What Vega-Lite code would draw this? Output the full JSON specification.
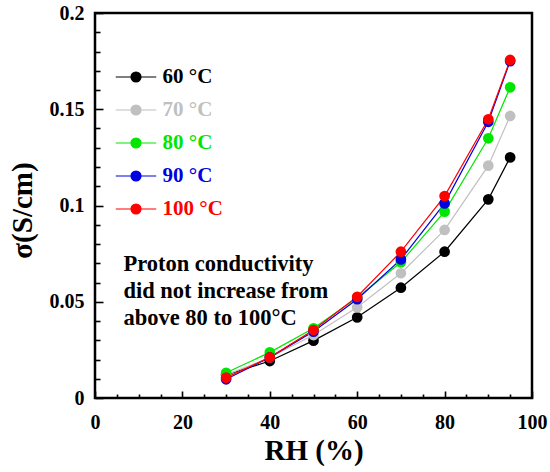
{
  "$schema": "https://vega.github.io/schema/vega-lite/v6.json",
  "autosize": {"type": "none"},
  "padding": {"left": 95, "top": 13, "right": 18, "bottom": 74},
  "width": 437,
  "height": 385,
  "config": {
    "view": {"stroke": "black", "strokeWidth": 2.5},
    "font": "Liberation Serif",
    "axis": {
      "labelFont": "Liberation Serif", "labelFontSize": 20, "labelFontWeight": "bold", "labelColor": "black",
      "titleFont": "Liberation Serif", "titleFontWeight": "bold", "titleColor": "black",
      "grid": false, "domain": false, "tickColor": "black", "tickWidth": 1.6
    }
  },
  "datasets": {
    "cond": [
      {"rh": 30, "sigma": 0.0120, "T": "60 °C"},
      {"rh": 40, "sigma": 0.0192, "T": "60 °C"},
      {"rh": 50, "sigma": 0.0298, "T": "60 °C"},
      {"rh": 60, "sigma": 0.0419, "T": "60 °C"},
      {"rh": 70, "sigma": 0.0573, "T": "60 °C"},
      {"rh": 80, "sigma": 0.0760, "T": "60 °C"},
      {"rh": 90, "sigma": 0.1032, "T": "60 °C"},
      {"rh": 95, "sigma": 0.1250, "T": "60 °C"},
      {"rh": 30, "sigma": 0.0120, "T": "70 °C"},
      {"rh": 40, "sigma": 0.0210, "T": "70 °C"},
      {"rh": 50, "sigma": 0.0327, "T": "70 °C"},
      {"rh": 60, "sigma": 0.0471, "T": "70 °C"},
      {"rh": 70, "sigma": 0.0648, "T": "70 °C"},
      {"rh": 80, "sigma": 0.0873, "T": "70 °C"},
      {"rh": 90, "sigma": 0.1207, "T": "70 °C"},
      {"rh": 95, "sigma": 0.1465, "T": "70 °C"},
      {"rh": 30, "sigma": 0.0131, "T": "80 °C"},
      {"rh": 40, "sigma": 0.0237, "T": "80 °C"},
      {"rh": 50, "sigma": 0.0362, "T": "80 °C"},
      {"rh": 60, "sigma": 0.0521, "T": "80 °C"},
      {"rh": 70, "sigma": 0.0705, "T": "80 °C"},
      {"rh": 80, "sigma": 0.0968, "T": "80 °C"},
      {"rh": 90, "sigma": 0.1349, "T": "80 °C"},
      {"rh": 95, "sigma": 0.1614, "T": "80 °C"},
      {"rh": 30, "sigma": 0.0097, "T": "90 °C"},
      {"rh": 40, "sigma": 0.0211, "T": "90 °C"},
      {"rh": 50, "sigma": 0.0345, "T": "90 °C"},
      {"rh": 60, "sigma": 0.0513, "T": "90 °C"},
      {"rh": 70, "sigma": 0.0720, "T": "90 °C"},
      {"rh": 80, "sigma": 0.1011, "T": "90 °C"},
      {"rh": 90, "sigma": 0.1435, "T": "90 °C"},
      {"rh": 95, "sigma": 0.1750, "T": "90 °C"},
      {"rh": 30, "sigma": 0.0106, "T": "100 °C"},
      {"rh": 40, "sigma": 0.0211, "T": "100 °C"},
      {"rh": 50, "sigma": 0.0353, "T": "100 °C"},
      {"rh": 60, "sigma": 0.0526, "T": "100 °C"},
      {"rh": 70, "sigma": 0.0760, "T": "100 °C"},
      {"rh": 80, "sigma": 0.1049, "T": "100 °C"},
      {"rh": 90, "sigma": 0.1448, "T": "100 °C"},
      {"rh": 95, "sigma": 0.1756, "T": "100 °C"}
    ],
    "note": [
      {"rh": 6.5, "sigma": 0.0661, "txt": ["Proton conductivity", "did not increase from", "above 80 to 100°C"]}
    ]
  },
  "layer": [
    {
      "data": {"name": "cond"},
      "mark": {"type": "line", "strokeWidth": 1.2, "point": {"filled": true, "size": 115, "opacity": 1}},
      "encoding": {
        "x": {
          "field": "rh", "type": "quantitative", "title": "RH (%)",
          "scale": {"domain": [0, 100], "nice": false},
          "axis": {
            "values": [0, 5, 10, 15, 20, 25, 30, 35, 40, 45, 50, 55, 60, 65, 70, 75, 80, 85, 90, 95, 100],
            "tickCount": 40,
            "labelExpr": "datum.value % 20 == 0 ? datum.label : ''",
            "tickSize": {"condition": {"test": "datum.value % 20 == 0", "value": -7}, "value": -4},
            "labelOverlap": false, "labelFlush": false,
            "labelPadding": 21,
            "titleFontSize": 29, "titleY": 52, "titleBaseline": "middle"
          }
        },
        "y": {
          "field": "sigma", "type": "quantitative", "title": "σ(S/cm)",
          "scale": {"domain": [0, 0.2], "nice": false},
          "axis": {
            "values": [0, 0.01, 0.02, 0.03, 0.04, 0.05, 0.06, 0.07, 0.08, 0.09, 0.1, 0.11, 0.12, 0.13, 0.14, 0.15, 0.16, 0.17, 0.18, 0.19, 0.2],
            "tickCount": 40,
            "format": "~g",
            "labelExpr": "abs(datum.value * 20 - round(datum.value * 20)) < 0.000001 ? datum.label : ''",
            "tickSize": {"condition": {"test": "abs(datum.value * 20 - round(datum.value * 20)) < 0.000001", "value": -8}, "value": -5},
            "labelOverlap": false, "labelFlush": false,
            "labelPadding": 19,
            "titleFontSize": 29, "titleX": -73, "titleY": 197, "titleBaseline": "middle"
          }
        },
        "color": {
          "field": "T", "type": "nominal",
          "scale": {
            "domain": ["60 °C", "70 °C", "80 °C", "90 °C", "100 °C"],
            "range": ["#000000", "#c0c0c0", "#00e600", "#0000e0", "#ff0000"]
          },
          "legend": {
            "title": null, "orient": "none", "legendX": 26.5, "legendY": 49.5, "padding": 0,
            "symbolType": "M-1.5,0H1.5M0.37,0A0.37,0.37,0,1,1,-0.37,0A0.37,0.37,0,1,1,0.37,0",
            "symbolSize": 729, "symbolStrokeWidth": 1.2,
            "labelFont": "Liberation Serif", "labelFontSize": 21, "labelFontWeight": "bold",
            "labelOffset": 12, "rowPadding": 8,
            "encode": {
              "labels": {"update": {"fill": {"scale": "color", "field": "value"}}},
              "symbols": {"update": {"fill": {"scale": "color", "field": "value"}, "stroke": {"scale": "color", "field": "value"}}}
            }
          }
        },
        "order": {"field": "rh", "type": "quantitative"}
      }
    },
    {
      "data": {"name": "note"},
      "mark": {"type": "text", "align": "left", "baseline": "alphabetic", "font": "Liberation Serif", "fontSize": 22.5, "fontWeight": "bold", "lineHeight": 27, "color": "black"},
      "encoding": {
        "x": {"field": "rh", "type": "quantitative"},
        "y": {"field": "sigma", "type": "quantitative"},
        "text": {"field": "txt"}
      }
    }
  ]
}
